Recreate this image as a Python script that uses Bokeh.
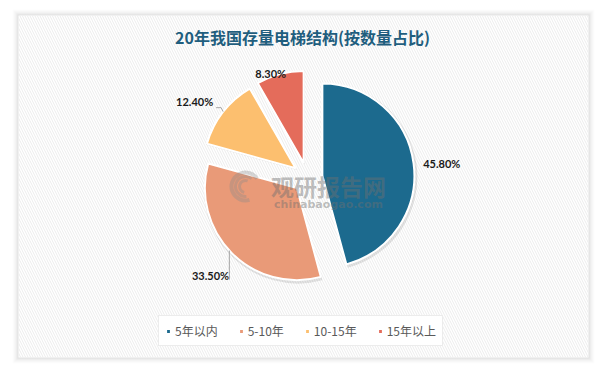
import math
from bokeh.plotting import figure
from bokeh.models import Range1d, Legend, LegendItem
from bokeh.core.properties import value
from bokeh.embed import file_html
from bokeh.resources import INLINE

# ---- data ----
title = "20年我国存量电梯结构(按数量占比)"
categories = ["5年以内", "5-10年", "10-15年", "15年以上"]
shares = [45.8, 33.5, 12.4, 8.3]
colors = ["#1c6a8e", "#e99a78", "#fcbf6f", "#e46c5b"]

# ---- layout / style ----
W, H = 604, 369
CX, CY = 307, 192          # pie centre (data = px)
R = 92                      # radius
EXPLODE = 15                # explode distance
label_dist = [135, 138, 136, 110]
label_ang_off = [1.6, -0.5, -3.9, -4.6]   # degrees (compass)

p = figure(width=W, height=H, x_range=Range1d(0, W), y_range=Range1d(0, H),
           toolbar_location=None, output_backend="svg", min_border=0,
           background_fill_color="white", border_fill_color="white")
p.axis.visible = False
p.grid.visible = False
p.outline_line_color = None

# panel shadow + hatched panel
for k, a in [(6, 0.01), (5, 0.012), (4, 0.015), (3, 0.02), (2, 0.025), (1, 0.03)]:
    p.quad(left=18 - k, right=588 + k, top=354 + k, bottom=12 - k,
           fill_color="black", fill_alpha=a, line_color=None)
p.quad(left=18, right=588, top=354, bottom=12, fill_color="white",
       line_color=None, hatch_pattern="\\", hatch_color="#ececec",
       hatch_scale=5, hatch_weight=1)

total = sum(shares)
cum = 0.0
renderers = []
xs_lab, ys_lab, txt_lab = [], [], []
centers = []
for i, (cat, v, c) in enumerate(zip(categories, shares, colors)):
    f0 = cum / total
    f1 = (cum + v) / total
    cum += v
    s_ang = math.pi / 2 - 2 * math.pi * f0
    e_ang = math.pi / 2 - 2 * math.pi * f1
    mid = (s_ang + e_ang) / 2
    ox = CX + EXPLODE * math.cos(mid)
    oy = CY + EXPLODE * math.sin(mid)
    centers.append((ox, oy))
    # soft shadow
    p.wedge(x=ox + 1, y=oy - 1.5, radius=R + 2, start_angle=s_ang, end_angle=e_ang,
            direction="clock", fill_color="black", fill_alpha=0.10, line_color=None)
    r = p.wedge(x=ox, y=oy, radius=R, start_angle=s_ang, end_angle=e_ang,
                direction="clock", fill_color=c, line_color="white", line_width=2)
    renderers.append(r)
    la = mid - math.radians(label_ang_off[i])
    xs_lab.append(CX + label_dist[i] * math.cos(la))
    ys_lab.append(CY + label_dist[i] * math.sin(la))
    txt_lab.append(f"{v:.2f}%")

p.text(x=xs_lab, y=ys_lab, text=txt_lab, text_align="center", text_baseline="middle",
       text_font=value("Lato"), text_font_style="bold", text_font_size="11px",
       text_color="#1a1a1a")

# leader lines (orange and yellow slices)
ocx, ocy = centers[1]
a_or = math.radians(90 - 227.2)
px_, py_ = ocx + R * math.cos(a_or), ocy + R * math.sin(a_or)
yx, yy = centers[2]
a_ye = math.radians(90 - 308)
qx, qy = yx + R * math.cos(a_ye), yy + R * math.sin(a_ye)
p.multi_line(xs=[[px_, px_], [qx, qx - 2, qx - 7]],
             ys=[[py_, ys_lab[1] - 4], [qy, qy + 4, qy + 4]],
             line_color="#a6a6a6", line_width=1)

# watermark
p.text(x=[328], y=[369 - 185], text=["观研报告网"], text_align="center",
       text_baseline="middle", text_font=value("Noto Sans CJK SC"),
       text_font_style="bold", text_font_size="23px", text_color="#6f6f6f", text_alpha=0.45)
p.text(x=[328], y=[369 - 204], text=["chinabaogao.com"], text_align="center",
       text_baseline="middle", text_font=value("DejaVu Sans"),
       text_font_style="bold", text_font_size="11px", text_color="#6f6f6f", text_alpha=0.45)
p.arc(x=[245] * 3, y=[369 - 186] * 3, radius=[14, 10, 6],
      start_angle=[0.6, 0.9, 1.2], end_angle=[5.0, 4.8, 4.5],
      line_color="#8a8a8a", line_alpha=0.35, line_width=[4, 3, 3])

# title
p.text(x=[302], y=[369 - 36], text=[title], text_align="center", text_baseline="middle",
       text_font=value("Noto Sans CJK SC"), text_font_style="bold",
       text_font_size="16px", text_color="#1f5e7e")

legend = Legend(items=[LegendItem(label=c, renderers=[r]) for c, r in zip(categories, renderers)],
                orientation="horizontal", location=(158, 23),
                glyph_width=6, glyph_height=6, label_standoff=4, spacing=20,
                padding=6, margin=0,
                label_text_font="Noto Sans CJK SC", label_text_font_size="12px",
                label_text_color="#595959", label_height=12,
                border_line_color="#d9d9d9", border_line_width=1,
                background_fill_color="white", background_fill_alpha=1)
p.add_layout(legend, "center")

open("out.html", "w").write(file_html(p, INLINE))
